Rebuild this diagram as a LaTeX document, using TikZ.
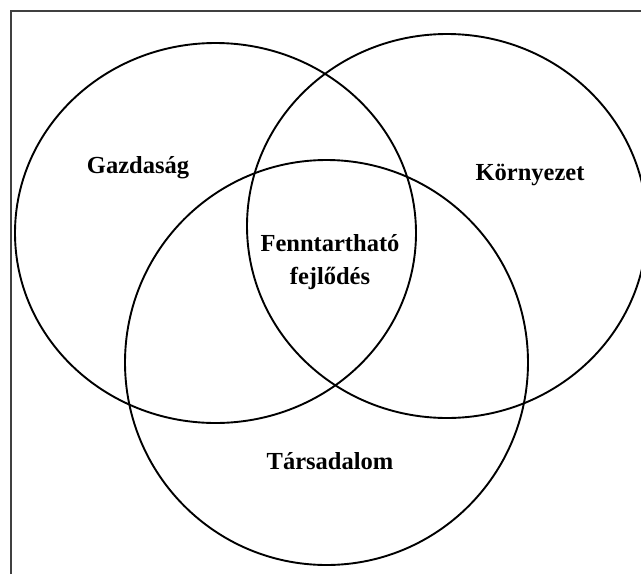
\documentclass[tikz,border=0pt]{standalone}
\usepackage{fontspec}
\setmainfont{Liberation Serif}
\begin{document}
\begin{tikzpicture}[x=1pt,y=-1pt,
  ring/.style={draw=black, line width=1.9pt},
  lbl/.style={font=\fontsize{24.5}{33}\selectfont\bfseries, align=center, inner sep=0pt},
  frame/.style={draw=black!75, line width=1.4pt}]
\useasboundingbox (0,0) rectangle (641,574);
\clip (0,0) rectangle (641,574);
\fill[white] (0,0) rectangle (641,574);
\draw[frame] (11,574) -- (11,11) -- (641,11);
\draw[ring] (215.5,233) ellipse [x radius=200.5, y radius=190];
\draw[ring] (447,226) ellipse [x radius=200, y radius=192];
\draw[ring] (326.5,362.5) ellipse [x radius=201.5, y radius=202.5];
\node[lbl] (gaz) at (138,168) {Gazdaság};
\node[lbl] (kor) at (530,175) {Környezet};
\node[lbl] (fen) at (330,262) {Fenntartható\\fejlődés};
\node[lbl] (tar) at (330,461) {Társadalom};
\end{tikzpicture}
\end{document}
